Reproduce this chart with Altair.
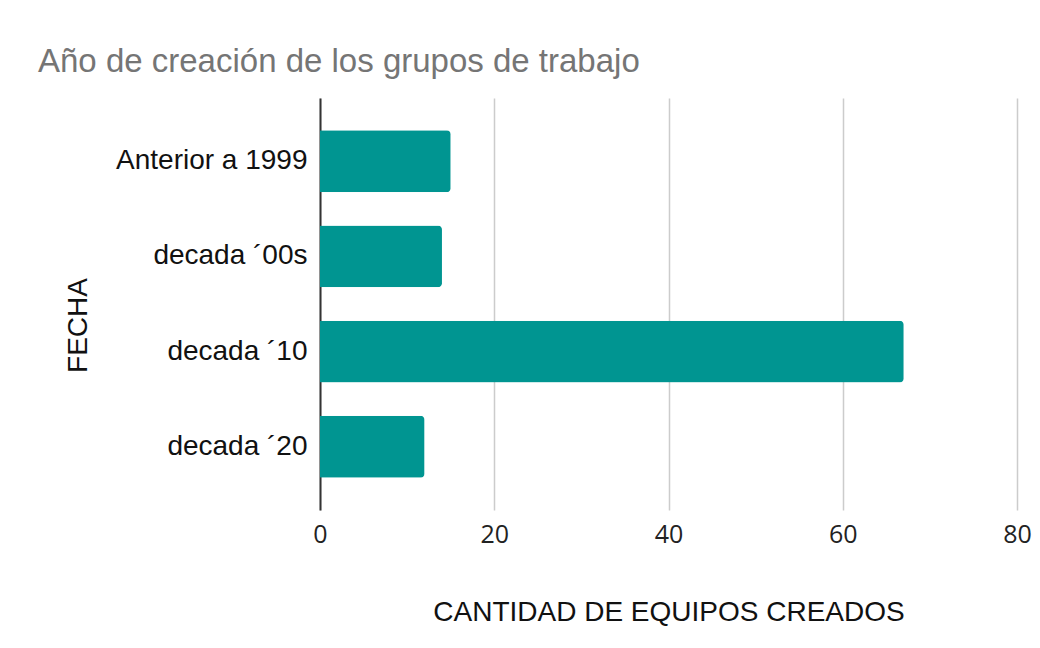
import altair as alt
import pandas as pd

categories = ["Anterior a 1999", "decada ´00s", "decada ´10", "decada ´20"]
values = [15, 14, 67, 12]
x_ticks = [0, 20, 40, 60, 80]

df = pd.DataFrame({"FECHA": categories, "CANTIDAD": values})

chart = alt.Chart(df).mark_bar(color="#009591", cornerRadiusEnd=4).encode(
    x=alt.X(
        "CANTIDAD:Q",
        scale=alt.Scale(domain=[0, 80], nice=False),
        axis=alt.Axis(
            title="CANTIDAD DE EQUIPOS CREADOS",
            values=x_ticks,
            domain=False,
            ticks=False,
            grid=True,
            gridColor="#cccccc",
            gridWidth=1.5,
            labelFont="Open Sans",
            labelFontSize=25,
            labelColor="#222222",
            labelPadding=12,
            labelFlush=False,
            titleFont="Liberation Sans",
            titleFontSize=28,
            titleFontWeight="normal",
            titleColor="#111111",
            titleBaseline="alphabetic",
            titleY=110,
        ),
    ),
    y=alt.Y(
        "FECHA:N",
        sort=categories,
        scale=alt.Scale(paddingInner=0.35, paddingOuter=0.34),
        axis=alt.Axis(
            title="FECHA",
            domain=True,
            domainColor="#333333",
            domainWidth=2,
            ticks=False,
            grid=False,
            labelFont="Liberation Sans",
            labelFontSize=28,
            labelColor="#111111",
            labelPadding=13,
            labelLimit=400,
            titleFont="Liberation Sans",
            titleFontSize=28,
            titleFontWeight="normal",
            titleColor="#111111",
            titleAngle=270,
            titleAlign="center",
            titleBaseline="alphabetic",
            titleX=-234,
            titleY=227,
        ),
    ),
).properties(
    width=697,
    height=412,
    autosize=alt.AutoSizeParams(type="none"),
    padding={"left": 312, "top": 90, "right": 15, "bottom": 130},
    background="white",
    title=alt.TitleParams(
        "Año de creación de los grupos de trabajo",
        anchor="start",
        frame="group",
        dx=-282,
        dy=35,
        font="Liberation Sans",
        fontSize=33,
        fontWeight="normal",
        color="#757575",
        baseline="alphabetic",
        offset=28,
    ),
).configure_view(stroke=None)

chart.save("out.html", embed_options={"renderer": "svg", "actions": False})
